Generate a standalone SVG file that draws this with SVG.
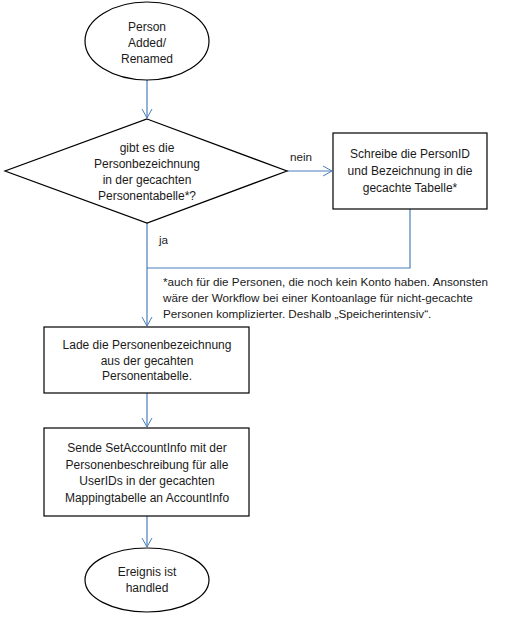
<svg xmlns="http://www.w3.org/2000/svg" width="522" height="623" viewBox="0 0 522 623">
<defs>
<marker id="arr" markerWidth="12" markerHeight="12" refX="10" refY="6" orient="auto" markerUnits="userSpaceOnUse">
<path d="M1,1 L10,6 L1,11" fill="none" stroke="#4a7ebb" stroke-width="1"/>
</marker>
<style>
.shape{fill:#ffffff;stroke:#000000;stroke-width:1.2}
.t{font-family:"Liberation Sans",Arial,sans-serif;font-size:12px;fill:#1a1a1a;text-anchor:middle}
.l{font-family:"Liberation Sans",Arial,sans-serif;font-size:11.7px;fill:#1a1a1a}
.c{fill:none;stroke:#4a7ebb;stroke-width:1.2}
</style>
</defs>
<rect width="522" height="623" fill="#ffffff"/>
<g id="connectors">
<path class="c" d="M147,80 L147,118" marker-end="url(#arr)"/>
<path class="c" d="M287,171 L332,171" marker-end="url(#arr)"/>
<path class="c" d="M147,223 L147,326" marker-end="url(#arr)"/>
<path class="c" d="M410,209 L410,268 L147,268"/>
<path class="c" d="M147,393 L147,427" marker-end="url(#arr)"/>
<path class="c" d="M147,516 L147,547" marker-end="url(#arr)"/>
<text class="l" x="290" y="161">nein</text>
<text class="l" x="159" y="244">ja</text>
</g>
<g id="start">
<ellipse class="shape" cx="147" cy="41" rx="62" ry="39"/>
<text class="t" x="147" y="31">Person</text>
<text class="t" x="147" y="47">Added/</text>
<text class="t" x="147" y="63">Renamed</text>
</g>
<g id="decision">
<polygon class="shape" points="147,119 287,171 147,223 5,171"/>
<text class="t" x="147" y="152">gibt es die</text>
<text class="t" x="147" y="168">Personbezeichnung</text>
<text class="t" x="147" y="184">in der gecachten</text>
<text class="t" x="147" y="200">Personentabelle*?</text>
</g>
<g id="write">
<rect class="shape" x="333" y="133" width="154" height="76"/>
<text class="t" x="410" y="158">Schreibe die PersonID</text>
<text class="t" x="410" y="175">und Bezeichnung in die</text>
<text class="t" x="410" y="192">gecachte Tabelle*</text>
</g>
<g id="note">
<text class="l" x="163" y="286">*auch für die Personen, die noch kein Konto haben. Ansonsten</text>
<text class="l" x="163" y="302">wäre der Workflow bei einer Kontoanlage für nicht-gecachte</text>
<text class="l" x="163" y="318">Personen komplizierter. Deshalb „Speicherintensiv“.</text>
</g>
<g id="load">
<rect class="shape" x="44" y="327" width="205" height="66"/>
<text class="t" x="147" y="349">Lade die Personenbezeichnung</text>
<text class="t" x="147" y="365">aus der gecahten</text>
<text class="t" x="147" y="380">Personentabelle.</text>
</g>
<g id="send">
<rect class="shape" x="44" y="428" width="205" height="88"/>
<text class="t" x="147" y="452">Sende SetAccountInfo  mit der</text>
<text class="t" x="147" y="469">Personenbeschreibung für alle</text>
<text class="t" x="147" y="485">UserIDs in der gecachten</text>
<text class="t" x="147" y="502">Mappingtabelle an AccountInfo</text>
</g>
<g id="end">
<ellipse class="shape" cx="147" cy="580" rx="62" ry="32"/>
<text class="t" x="147" y="576">Ereignis ist</text>
<text class="t" x="147" y="592">handled</text>
</g>
</svg>
